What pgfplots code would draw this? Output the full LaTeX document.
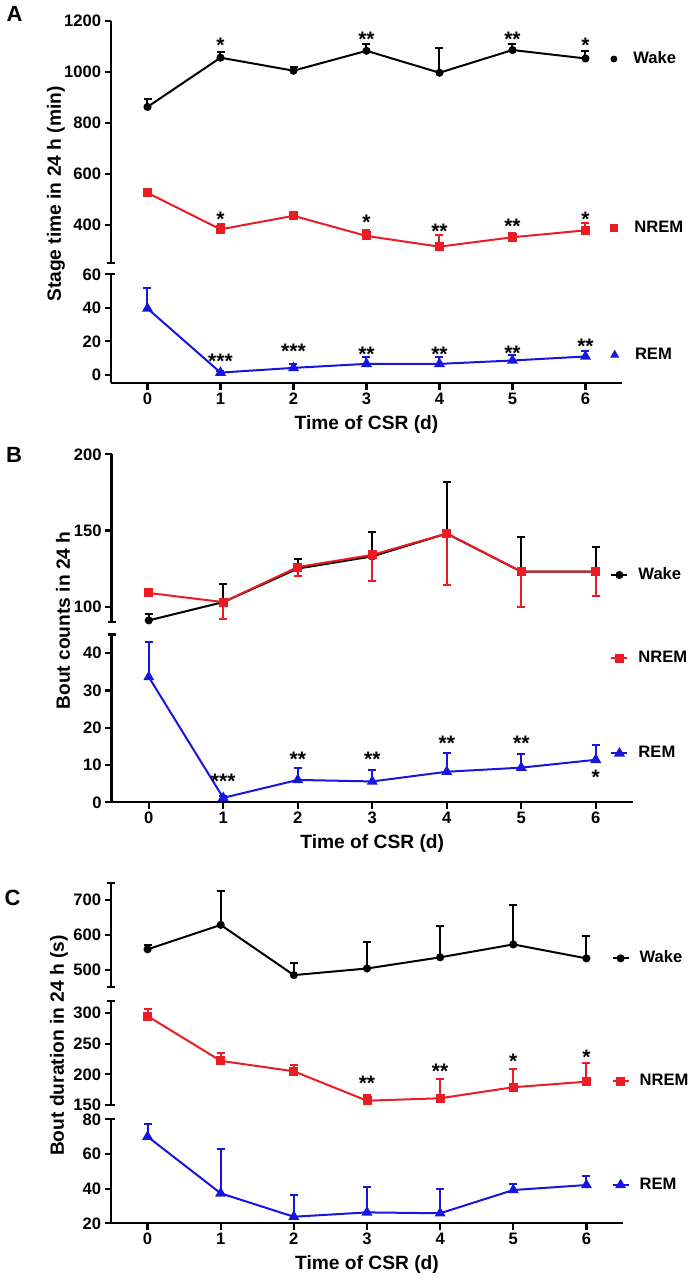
\documentclass[border=0pt]{standalone}
\usepackage{fontspec}
\setmainfont{Liberation Sans}
\usepackage{pgfplots}
\pgfplotsset{compat=1.18}
\definecolor{cred}{RGB}{236,28,36}
\definecolor{cblue}{RGB}{22,22,222}
\newcommand\tkfont{\bfseries\fontsize{8.3}{9}\selectfont}
\newcommand\lbfont{\bfseries\fontsize{9.6}{11}\selectfont}
\newcommand\stfont{\bfseries\fontsize{10.5}{11}\selectfont}
\tikzset{
  star/.style={font=\stfont, inner sep=0pt, anchor=base, yshift=-6pt},
  brk/.style={line width=1.1pt},
}
\pgfplotsset{
  every non boxed x axis/.style={},
  every non boxed y axis/.style={},
  seg/.style={scale only axis, anchor=north west, xmin=-0.5, xmax=6.5, clip=false,
    axis line style={line width=1.1pt,-},
    x axis line style={-}, y axis line style={-},
    major tick style={black, line width=1.1pt}, major tick length=3.25pt, tick align=outside,
    tick label style={font=\tkfont, inner sep=1.5pt},
    /pgf/number format/assume math mode=true,
    /pgf/number format/1000 sep={},
    scaled y ticks=false,
    legend style={draw=none, fill=none, anchor=west, inner sep=0pt,
      nodes={inner sep=0pt}, font=\tkfont, column sep=5pt},
    legend image code/.code={\draw[mark repeat=2,mark phase=2] plot coordinates {(0pt,0pt)(4pt,0pt)(8pt,0pt)};},
  },
  topseg/.style={axis x line=none, axis y line=left, seg, xtick=\empty},
  botseg/.style={axis x line=bottom, axis y line=left, seg, xtick={0,...,6},
    xlabel={Time of CSR (d)},
    xlabel style={at={(axis description cs:0.5,0)}, anchor=center, yshift=-20.85pt, font=\lbfont}},
  ghost/.style={seg, hide axis},
  % legends of panel A: marks only
  markleg/.style={legend style={at={(0.9775,#1)}, column sep=8.25pt}},
  wake/.style={black, line width=1pt, mark=*, mark size=1.5pt},
  nrem/.style={cred, line width=1pt, mark=square*, mark size=1.75pt},
  rem/.style={cblue, line width=1pt, mark=triangle*, mark size=2.2pt},
  ebar/.style={/pgfplots/error bars/y dir=#1, /pgfplots/error bars/y explicit,
    /pgfplots/error bars/error bar style={line width=1pt},
    /pgfplots/error bars/error mark options={rotate=90, mark size=2pt, line width=1pt}},
  ebar/.default=plus,
  gA1/.style={at={(55.5pt,-10.35pt)}, width=255.5pt, height=121.15pt, ymin=250, ymax=1200},
  gA2/.style={at={(55.5pt,-137.15pt)}, width=255.5pt, height=54.5pt, ymin=-5, ymax=60},
  gB1/.style={at={(55.75pt,-227.15pt)}, width=260.75pt, height=83.8pt, ymin=90, ymax=200},
  gB2/.style={at={(55.75pt,-317.25pt)}, width=260.75pt, height=83.9pt, ymin=0, ymax=45},
  gC1/.style={at={(55.5pt,-441.35pt)}, width=256pt, height=52.3pt, ymin=450, ymax=750},
  gC2/.style={at={(55.5pt,-500.35pt)}, width=256pt, height=52.15pt, ymin=150, ymax=320},
  gC3/.style={at={(55.5pt,-559.65pt)}, width=256pt, height=52pt, ymin=20, ymax=80},
}
\newcommand\brk[1]{\draw[brk] (rel axis cs:0,#1) ++(-2pt,0pt) -- ++(4pt,0pt);}

\begin{document}
\begin{tikzpicture}
\path[use as bounding box] (0,0) rectangle (346pt,-640pt);

% ---------------- A ----------------
\begin{axis}[topseg, gA1, ytick={400,600,800,1000,1200}, markleg=0.842]
  \addlegendimage{only marks, mark=*, mark size=1.5pt, black}
  \addlegendentry{Wake}
  \addplot[wake, ebar, forget plot] coordinates {
    (0,862) +- (0,30) (1,1055) +- (0,23) (2,1004) +- (0,15) (3,1082) +- (0,25)
    (4,996) +- (0,96) (5,1085) +- (0,22) (6,1052) +- (0,30)};
  \brk{0}
  \node[star] at (axis cs:1,1121.6) {*};
  \node[star] at (axis cs:3,1146.7) {**};
  \node[star] at (axis cs:5,1146.7) {**};
  \node[star] at (axis cs:6,1121.6) {*};
\end{axis}
\begin{axis}[ghost, gA1, markleg=0.143]
  \addlegendimage{only marks, mark=square*, mark size=1.75pt, cred}
  \addlegendentry{NREM}
  \addplot[nrem, ebar, forget plot] coordinates {
    (0,525) +- (0,12) (1,382) +- (0,20) (2,435) +- (0,14) (3,356) +- (0,23)
    (4,314) +- (0,46) (5,351) +- (0,18) (6,378) +- (0,29)};
  \node[star] at (axis cs:1,442) {*};
  \node[star] at (axis cs:3,427.5) {*};
  \node[star] at (axis cs:4,392) {**};
  \node[star] at (axis cs:5,412) {**};
  \node[star] at (axis cs:6,442) {*};
\end{axis}
\begin{axis}[botseg, gA2, ytick={0,20,40,60}, markleg=0.26]
  \addlegendimage{only marks, mark=triangle*, mark size=2.2pt, cblue}
  \addlegendentry{REM}
  \addplot[rem, ebar, forget plot] coordinates {
    (0,39.6) +- (0,12) (1,1.4) +- (0,1) (2,4.2) +- (0,2.6) (3,6.6) +- (0,3.8)
    (4,6.6) +- (0,3.8) (5,8.6) +- (0,3) (6,11) +- (0,3.4)};
  \brk{1}
  \node[star] at (axis cs:1,11.2) {***};
  \node[star] at (axis cs:2,16.7) {***};
  \node[star] at (axis cs:3,15.3) {**};
  \node[star] at (axis cs:4,15.3) {**};
  \node[star] at (axis cs:5,15.8) {**};
  \node[star] at (axis cs:6,19.7) {**};
\end{axis}

% ---------------- B ----------------
\begin{axis}[topseg, gB1, ytick={100,150,200},
  legend style={at={(0.956,0.28)}}]
  \addplot[wake, ebar] coordinates {
    (0,91) +- (0,4) (1,103) +- (0,12) (2,125) +- (0,6) (3,133) +- (0,16)
    (4,148) +- (0,34) (5,123) +- (0,23) (6,123) +- (0,16)};
  \addlegendentry{Wake}
  \brk{0}
\end{axis}
\begin{axis}[ghost, gB1, legend style={at={(0.956,-0.217)}}]
  \addplot[nrem, ebar=minus] coordinates {
    (0,109) +- (0,2) (1,103) +- (0,11) (2,126) +- (0,6) (3,134) +- (0,17)
    (4,148) +- (0,34) (5,123) +- (0,23) (6,123) +- (0,16)};
  \addlegendentry{NREM}
\end{axis}
\begin{axis}[botseg, gB2, ytick={0,10,20,30,40},
  legend style={at={(0.956,0.292)}}]
  \addplot[rem, ebar] coordinates {
    (0,33.6) +- (0,9.3) (1,1.2) +- (0,0.5) (2,6.0) +- (0,3.3) (3,5.6) +- (0,3)
    (4,8.2) +- (0,4.9) (5,9.3) +- (0,3.6) (6,11.4) +- (0,4)};
  \addlegendentry{REM}
  \brk{1}
  \node[star] at (axis cs:1,6.9) {***};
  \node[star] at (axis cs:2,12.7) {**};
  \node[star] at (axis cs:3,12.7) {**};
  \node[star] at (axis cs:4,17.2) {**};
  \node[star] at (axis cs:5,17.2) {**};
  \node[star] at (axis cs:6,8.0) {*};
\end{axis}

% ---------------- C ----------------
\begin{axis}[topseg, gC1, ytick={500,600,700},
  legend style={at={(0.977,0.277)}}]
  \addplot[wake, ebar] coordinates {
    (0,559) +- (0,12) (1,629) +- (0,97) (2,485) +- (0,35) (3,504) +- (0,75)
    (4,536) +- (0,90) (5,573) +- (0,113) (6,533) +- (0,63)};
  \addlegendentry{Wake}
  \brk{0}
  \brk{1}
\end{axis}
\begin{axis}[topseg, gC2, ytick={150,200,250,300},
  legend style={at={(0.977,0.23)}}]
  \addplot[nrem, ebar] coordinates {
    (0,295) +- (0,11) (1,222) +- (0,12) (2,205) +- (0,10) (3,157) +- (0,10)
    (4,161) +- (0,32) (5,179) +- (0,29) (6,188) +- (0,30)};
  \addlegendentry{NREM}
  \brk{0}
  \brk{1}
  \node[star] at (axis cs:3,192.4) {**};
  \node[star] at (axis cs:4,212.4) {**};
  \node[star] at (axis cs:5,228.7) {*};
  \node[star] at (axis cs:6,235.3) {*};
\end{axis}
\begin{axis}[botseg, gC3, ytick={20,40,60,80},
  legend style={at={(0.977,0.368)}}]
  \addplot[rem, ebar] coordinates {
    (0,70) +- (0,7.3) (1,37.3) +- (0,25.4) (2,23.8) +- (0,12.5) (3,26.3) +- (0,14.6)
    (4,25.8) +- (0,14) (5,39.2) +- (0,3.5) (6,42.1) +- (0,5.4)};
  \addlegendentry{REM}
  \brk{1}
\end{axis}

% labels
\node[font=\bfseries\fontsize{11}{12}\selectfont] at (7.25pt,-6.75pt) {A};
\node[font=\bfseries\fontsize{11}{12}\selectfont] at (7pt,-227.5pt) {B};
\node[font=\bfseries\fontsize{11}{12}\selectfont] at (6.25pt,-448.75pt) {C};
\node[font=\lbfont, rotate=90] at (28pt,-97pt) {Stage time in 24 h (min)};
\node[font=\lbfont, rotate=90] at (31.5pt,-310.25pt) {Bout counts in 24 h};
\node[font=\lbfont, rotate=90] at (29.5pt,-522.75pt) {Bout duration in 24 h (s)};
\end{tikzpicture}
\end{document}
